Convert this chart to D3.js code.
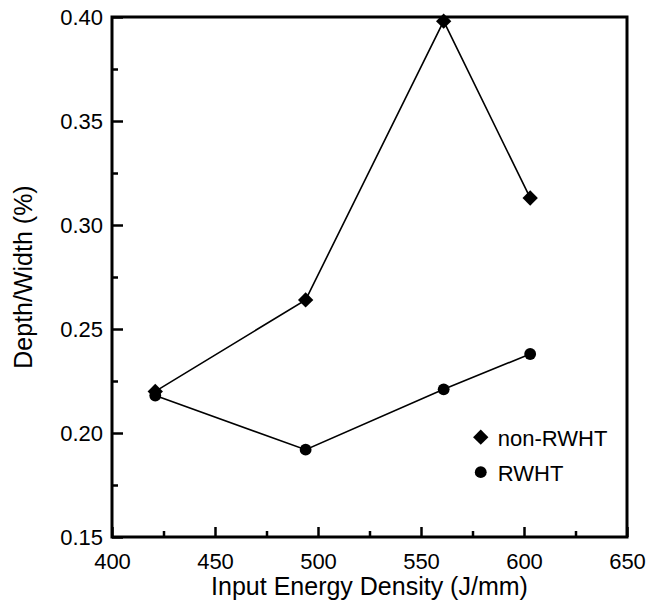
<!DOCTYPE html>
<html>
<head>
<meta charset="utf-8">
<script src="https://cdn.jsdelivr.net/npm/d3@7"></script>
<style>
  body { margin: 0; background: #fff; }
  text { font-family: "Liberation Sans", Arial, sans-serif; fill: #000; }
</style>
</head>
<body>
<div id="chart"></div>
<script>
// data
const energy = [421, 494, 561, 603];
const nonRWHT = [0.220, 0.264, 0.398, 0.313];
const RWHT = [0.218, 0.192, 0.221, 0.238];
const xTicks = [400, 450, 500, 550, 600, 650];
const yTicks = [0.15, 0.20, 0.25, 0.30, 0.35, 0.40];
const legendLabels = ["non-RWHT", "RWHT"];

// svg set up
let svgWidth = 649;
let svgHeight = 600;
let margin = { top: 17, bottom: 63, left: 112, right: 22 };
let width = svgWidth - margin.left - margin.right;
let height = svgHeight - margin.top - margin.bottom;

let svg = d3.select("#chart")
    .append("svg")
    .attr("width", svgWidth)
    .attr("height", svgHeight);

let chartGroup = svg.append("g")
    .attr("transform", `translate(${margin.left},${margin.top})`);

// scales
let x = d3.scaleLinear().domain([400, 650]).range([0, width]);
let y = d3.scaleLinear().domain([0.15, 0.40]).range([height, 0]);

// minor ticks at the midpoints
let xMinor = d3.range(425, 650, 50);
let yMinor = d3.range(0.175, 0.40, 0.05);

// bottom axis, ticks pointing inward
let xAxis = chartGroup.append("g")
    .attr("transform", `translate(0,${height})`)
    .call(d3.axisBottom(x).tickValues(xTicks).tickSize(-10).tickPadding(16).tickFormat(d3.format("d")));
xAxis.select(".domain").remove();
xAxis.selectAll(".tick line").attr("stroke-width", 2.5);
xAxis.selectAll("text").attr("font-size", 22);

chartGroup.append("g")
    .attr("transform", `translate(0,${height})`)
    .call(d3.axisBottom(x).tickValues(xMinor).tickSize(-6).tickFormat(""))
    .call(g => g.select(".domain").remove())
    .selectAll(".tick line").attr("stroke-width", 2.5);

// left axis
let yAxis = chartGroup.append("g")
    .call(d3.axisLeft(y).tickValues(yTicks).tickSize(-11).tickPadding(9).tickFormat(d3.format(".2f")));
yAxis.select(".domain").remove();
yAxis.selectAll(".tick line").attr("stroke-width", 2.5);
yAxis.selectAll("text").attr("font-size", 22);

chartGroup.append("g")
    .call(d3.axisLeft(y).tickValues(yMinor).tickSize(-6).tickFormat(""))
    .call(g => g.select(".domain").remove())
    .selectAll(".tick line").attr("stroke-width", 2.5);

// frame
chartGroup.append("rect")
    .attr("x", 0)
    .attr("y", 0)
    .attr("width", width)
    .attr("height", height)
    .attr("fill", "none")
    .attr("stroke", "#000")
    .attr("stroke-width", 3);

// lines
let line = d3.line()
    .x(d => x(d[0]))
    .y(d => y(d[1]));

let series = [
    { name: legendLabels[0], values: nonRWHT, symbol: d3.symbolDiamond2, size: 150 },
    { name: legendLabels[1], values: RWHT, symbol: d3.symbolCircle, size: 110 }
];

series.forEach(s => {
    let pts = energy.map((e, i) => [e, s.values[i]]);
    chartGroup.append("path")
        .datum(pts)
        .attr("d", line)
        .attr("fill", "none")
        .attr("stroke", "#000")
        .attr("stroke-width", 1.6);

    chartGroup.selectAll(null)
        .data(pts)
        .enter()
        .append("path")
        .attr("d", d3.symbol().type(s.symbol).size(s.size))
        .attr("transform", d => `translate(${x(d[0])},${y(d[1])})`)
        .attr("fill", "#000");
});

// legend
let legend = chartGroup.append("g")
    .attr("transform", `translate(${x(579)},${y(0.198)})`);

series.forEach((s, i) => {
    let row = legend.append("g")
        .attr("transform", `translate(0,${i * 35})`);
    row.append("path")
        .attr("d", d3.symbol().type(s.symbol).size(s.size))
        .attr("fill", "#000");
    row.append("text")
        .attr("x", 17)
        .attr("y", 9)
        .attr("font-size", 22)
        .text(s.name);
});

// axis titles
chartGroup.append("text")
    .attr("x", width / 2)
    .attr("y", height + 58)
    .attr("text-anchor", "middle")
    .attr("font-size", 25)
    .text("Input Energy Density (J/mm)");

chartGroup.append("text")
    .attr("transform", "rotate(-90)")
    .attr("x", -height / 2)
    .attr("y", -80)
    .attr("text-anchor", "middle")
    .attr("font-size", 25)
    .text("Depth/Width (%)");
</script>
</body>
</html>
